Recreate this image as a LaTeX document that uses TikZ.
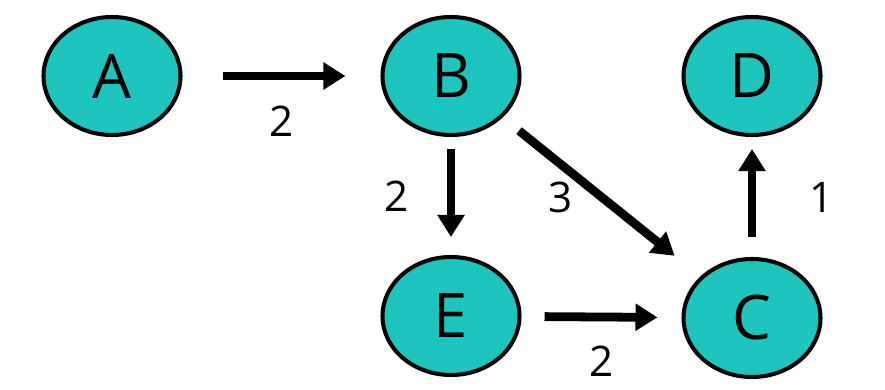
\documentclass[tikz,border=0pt]{standalone}
\usepackage{fontspec}
\setmainfont{Open Sans}
\usepackage{xcolor}
\usetikzlibrary{shapes.geometric, arrows.meta, positioning}
\definecolor{graph-teal}{RGB}{30,196,190}

\begin{document}
\begin{tikzpicture}[
  vertex/.style={ellipse, draw, line width=2.3pt, fill=graph-teal, inner sep=0pt, minimum width=2.74cm, minimum height=2.36cm, font=\fontsize{35}{40}\selectfont},
  edge/.style={-{Triangle[length=0.44cm, width=0.52cm]}, line width=5pt},
  weight/.style={inner sep=0pt, font=\fontsize{24}{28}\selectfont},
]
  \useasboundingbox (0,0) rectangle (17.7,-7.8);

  % Top row
  \node[vertex] (A) at (2.24,-1.52) {A};
  \node[vertex] (B) at (9.02,-1.52) {B};
  \node[vertex] (D) at (15.04,-1.52) {D};

  % Bottom row
  \node[vertex] (E) at (9.02,-6.32) {E};
  \node[vertex] (C) at (15.04,-6.36) {C};

  % Weighted edges
  \draw[edge, shorten <=0.8cm, shorten >=0.7cm] (A) -- (B) node[weight, midway, below=0.52cm] {2};
  \draw[edge, shorten <=0.24cm, shorten >=0.36cm] (B) -- (E) node[weight, midway, left=0.76cm] {2};
  \draw[edge, shorten <=0.42cm, shorten >=0.66cm] (B) -- (C) node[weight, midway, xshift=-0.82cm] {3};
  \draw[edge, shorten <=0.46cm, shorten >=0.48cm] (E) -- (C) node[weight, midway, below=0.5cm] {2};
  \draw[edge, shorten <=0.4cm, shorten >=0.24cm] (C) -- (D) node[weight, midway, right=1.06cm] {1};
\end{tikzpicture}
\end{document}
